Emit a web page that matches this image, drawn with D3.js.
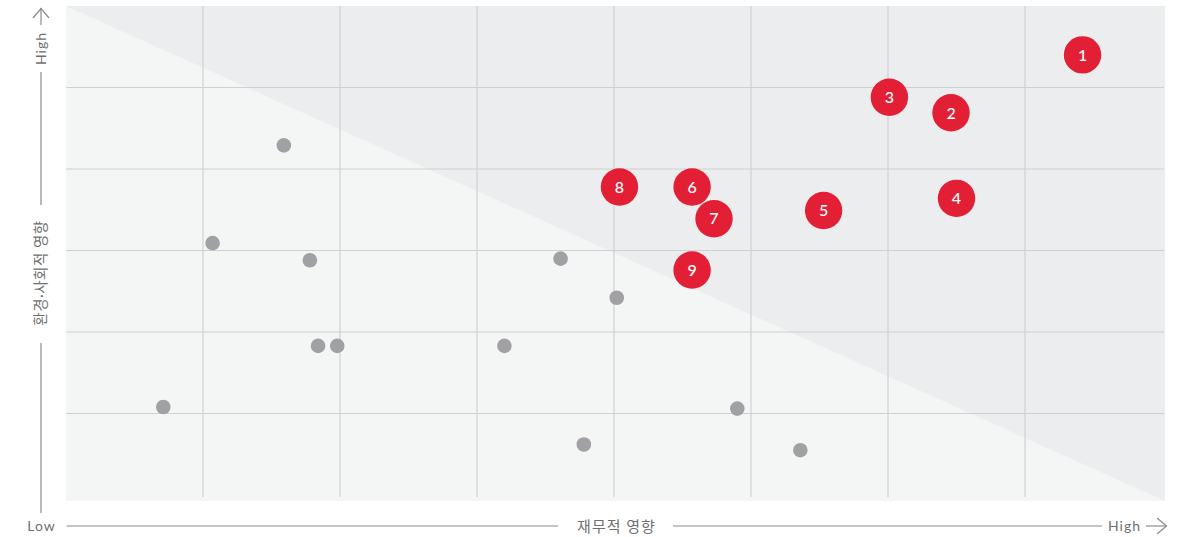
<!DOCTYPE html>
<html>
<head>
<meta charset="utf-8">
<script src="https://cdn.jsdelivr.net/npm/d3@7"></script>
<style>
  html, body { margin: 0; padding: 0; background: #ffffff; }
  svg { display: block; }
  text { font-family: "Lato", "Noto Sans CJK KR", sans-serif; }
</style>
</head>
<body>
<svg id="chart" width="1188" height="537"></svg>
<script>
// ---- data ----
const xGridTicks = [1, 2, 3, 4, 5, 6, 7];
const yGridTicks = [1, 2, 3, 4, 5];

const otherX = [0.71, 1.07, 1.59, 1.78, 1.84, 1.98, 3.20, 3.61, 4.02, 3.78, 4.90, 5.36];
const otherY = [1.08, 3.09, 4.29, 2.88, 1.83, 1.83, 1.83, 2.90, 2.42, 0.62, 1.06, 0.55];

const issueIds = ["1", "2", "3", "4", "5", "6", "7", "8", "9"];
const issueX   = [7.42, 6.46, 6.01, 6.50, 5.53, 4.57, 4.73, 4.04, 4.57];
const issueY   = [5.40, 4.69, 4.88, 3.64, 3.49, 3.78, 3.39, 3.78, 2.76];

const xAxisLabel = "재무적 영향";
const yAxisLabel = "환경·사회적 영향";
const lowLabel = "Low";
const highLabel = "High";

(function draw() {
  // ---- scales ----
  const svg = d3.select("#chart");
  const x = d3.scaleLinear().domain([0, 8]).range([66, 1162]);
  const y = d3.scaleLinear().domain([0, 6]).range([495, 6]);

  const pLeft = x(0), pRight = x(8) + 3, pTop = y(6), pBottom = y(0) + 6;

  // background
  svg.append("rect").attr("x", pLeft).attr("y", pTop)
    .attr("width", pRight - pLeft).attr("height", pBottom - pTop)
    .attr("fill", "#f4f5f5");
  svg.append("path")
    .attr("d", `M${pLeft},${pTop} L${pRight},${pTop} L${pRight},${pBottom} Z`)
    .attr("fill", "#ecedef");

  // gridlines
  const grid = svg.append("g").attr("stroke", "#cfd0d2").attr("stroke-width", 1.2);
  grid.selectAll("line.v").data(xGridTicks).join("line").attr("class", "v")
    .attr("x1", d => x(d)).attr("x2", d => x(d))
    .attr("y1", pTop).attr("y2", y(0) + 2);
  grid.selectAll("line.h").data(yGridTicks).join("line").attr("class", "h")
    .attr("x1", pLeft).attr("x2", pRight - 1)
    .attr("y1", d => y(d)).attr("y2", d => y(d));

  // other points
  svg.append("g").selectAll("circle").data(otherX.map((v, i) => [v, otherY[i]])).join("circle")
    .attr("cx", d => x(d[0])).attr("cy", d => y(d[1])).attr("r", 7.3)
    .attr("fill", "#a1a1a5");

  // key issues
  const issues = svg.append("g").selectAll("g")
    .data(issueIds.map((id, i) => ({id, x: issueX[i], y: issueY[i]}))).join("g")
    .attr("transform", d => `translate(${x(d.x)},${y(d.y)})`);
  issues.append("circle").attr("r", 18.7).attr("fill", "#e31f35");
  issues.append("text").text(d => d.id)
    .attr("text-anchor", "middle").attr("dy", "0.36em")
    .attr("fill", "#ffffff").attr("font-size", 16).attr("font-weight", 500);

  // ---- axis decorations ----
  const axisColor = "#8a8a8c";
  const textColor = "#6f6f72";
  const deco = svg.append("g");

  // Y axis (vertical)
  const ax = 41;
  deco.append("line").attr("x1", ax).attr("x2", ax).attr("y1", 8).attr("y2", 25)
    .attr("stroke", axisColor).attr("stroke-width", 1.2);
  deco.append("path").attr("d", `M${ax - 8},18 L${ax},8.5 L${ax + 8},18`)
    .attr("fill", "none").attr("stroke", axisColor).attr("stroke-width", 1.2);
  deco.append("text").text(highLabel)
    .attr("transform", `translate(${ax + 5},48.5) rotate(-90)`)
    .attr("text-anchor", "middle").attr("fill", textColor)
    .attr("font-size", 14).attr("letter-spacing", 1);
  deco.append("line").attr("x1", ax).attr("x2", ax).attr("y1", 72).attr("y2", 205)
    .attr("stroke", axisColor).attr("stroke-width", 1.2);
  deco.append("text").text(yAxisLabel)
    .attr("transform", `translate(${ax + 5},273) rotate(-90)`)
    .attr("text-anchor", "middle").attr("fill", textColor)
    .attr("font-family", "'Noto Sans CJK KR', sans-serif")
    .attr("font-size", 14.5).attr("letter-spacing", 0.5);
  deco.append("line").attr("x1", ax).attr("x2", ax).attr("y1", 343).attr("y2", 513)
    .attr("stroke", axisColor).attr("stroke-width", 1.2);

  // X axis (horizontal)
  const ay = 526;
  deco.append("text").text(lowLabel)
    .attr("x", 41.5).attr("y", ay + 5).attr("text-anchor", "middle")
    .attr("fill", textColor).attr("font-size", 14).attr("letter-spacing", 1);
  deco.append("line").attr("x1", 66.5).attr("x2", 558).attr("y1", ay).attr("y2", ay)
    .attr("stroke", axisColor).attr("stroke-width", 1.2);
  deco.append("text").text(xAxisLabel)
    .attr("x", 616.5).attr("y", ay + 5.5).attr("text-anchor", "middle")
    .attr("fill", textColor).attr("font-family", "'Noto Sans CJK KR', sans-serif")
    .attr("font-size", 15).attr("letter-spacing", 1);
  deco.append("line").attr("x1", 673).attr("x2", 1102).attr("y1", ay).attr("y2", ay)
    .attr("stroke", axisColor).attr("stroke-width", 1.2);
  deco.append("text").text(highLabel)
    .attr("x", 1124.5).attr("y", ay + 5).attr("text-anchor", "middle")
    .attr("fill", textColor).attr("font-size", 14).attr("letter-spacing", 1);
  deco.append("line").attr("x1", 1146).attr("x2", 1166).attr("y1", ay).attr("y2", ay)
    .attr("stroke", axisColor).attr("stroke-width", 1.2);
  deco.append("path").attr("d", `M1157,${ay - 8} L1166.5,${ay} L1157,${ay + 8}`)
    .attr("fill", "none").attr("stroke", axisColor).attr("stroke-width", 1.2);
})();
</script>
</body>
</html>
